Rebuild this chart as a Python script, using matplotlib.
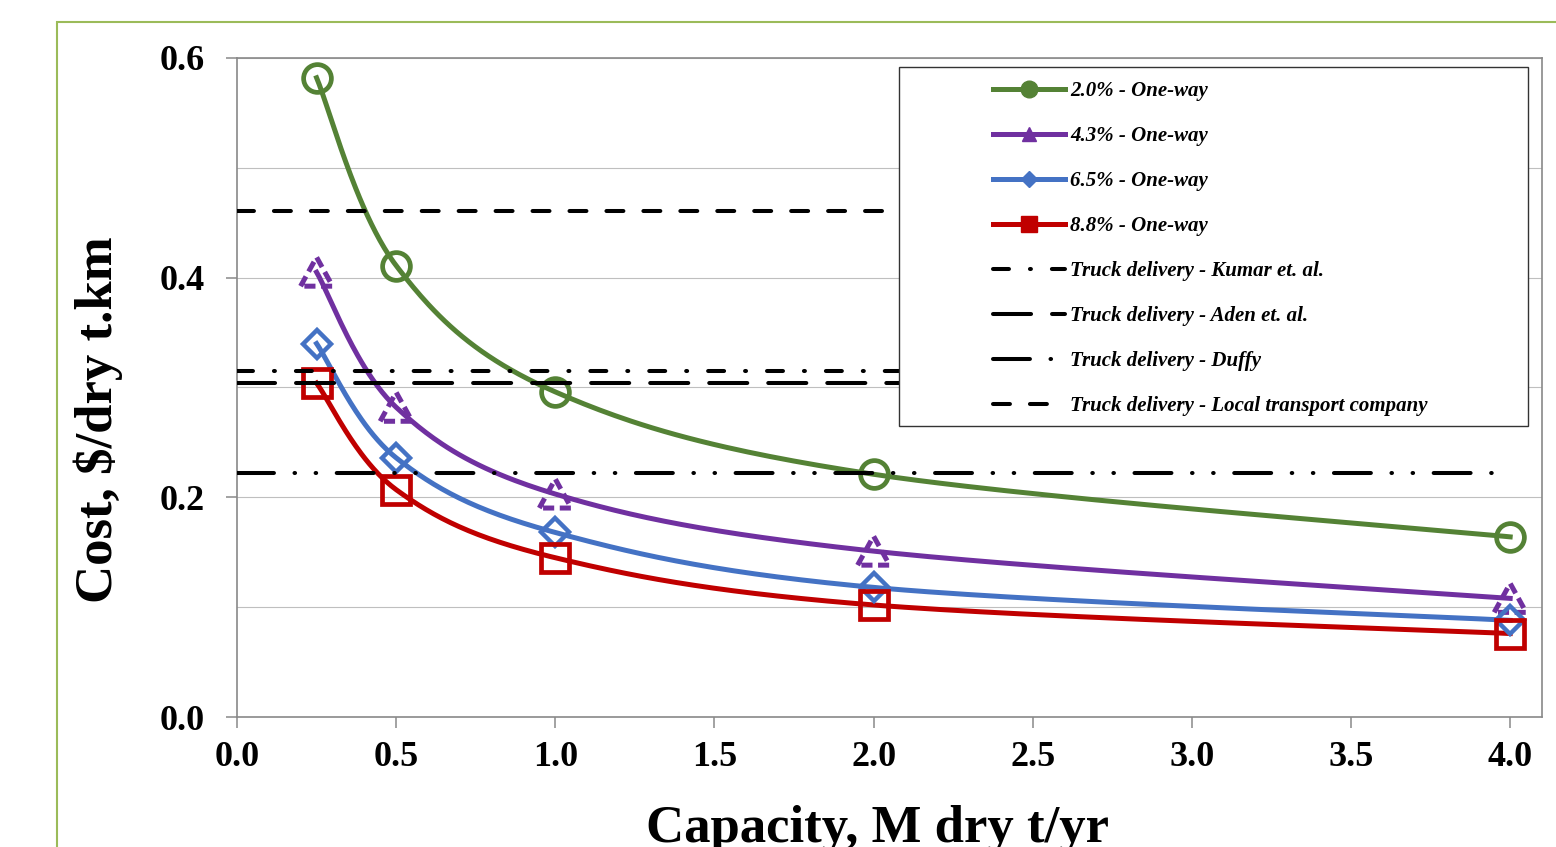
import numpy as np
import matplotlib
matplotlib.use("Agg")
import matplotlib.pyplot as plt
import matplotlib.transforms as mtransforms
from matplotlib.lines import Line2D
from matplotlib.patches import Rectangle
from matplotlib.ticker import MultipleLocator, FormatStrFormatter

plt.rcParams['font.family'] = ['Liberation Serif', 'DejaVu Serif']
plt.rcParams['lines.scale_dashes'] = False

# data
capacity = [0.25, 0.5, 1.0, 2.0, 4.0]
cost_20 = [0.582, 0.411, 0.296, 0.221, 0.164]
cost_43 = [0.405, 0.282, 0.203, 0.151, 0.108]
cost_65 = [0.340, 0.236, 0.168, 0.118, 0.088]
cost_88 = [0.304, 0.207, 0.145, 0.102, 0.076]

truck_x = [0.0, 4.0]
truck_kumar = 0.315
truck_aden = 0.304
truck_duffy = 0.222
truck_local = 0.461

green = "#548235"
purple = "#7030A0"
blue = "#4472C4"
red = "#C00000"
axis_gray = "#898989"


def smooth(xs, ys, n=50):
    # Excel style smoothed line: cubic Bezier through the points
    P = np.column_stack([xs, ys])
    ext = np.vstack([P[0], P, P[-1]])
    t = np.linspace(0, 1, n)[:, None]
    out = []
    for i in range(len(P) - 1):
        p0, p1, p2, p3 = ext[i], ext[i + 1], ext[i + 2], ext[i + 3]
        c1 = p1 + (p2 - p0) / 6
        c2 = p2 - (p3 - p1) / 6
        seg = (1 - t) ** 3 * p1 + 3 * (1 - t) ** 2 * t * c1 + 3 * (1 - t) * t ** 2 * c2 + t ** 3 * p2
        out.append(seg)
    out = np.vstack(out)
    return out[:, 0], out[:, 1]


fig = plt.figure(figsize=(15.56, 8.47), dpi=100)
ax = fig.add_axes([237 / 1556, 130 / 847, 1305 / 1556, 659 / 847])

lw = 3.6
sx, sy = smooth(capacity, cost_20)
ax.plot(sx, sy, color=green, lw=lw, zorder=3)
ax.plot(capacity, cost_20, ls='none', marker='o', ms=20, mfc='none', mec=green, mew=3.4, zorder=4)

sx, sy = smooth(capacity, cost_43)
ax.plot(sx, sy, color=purple, lw=lw, zorder=3)
# dashed-outline triangles
tri_x = np.array([-0.16, 0.0, 0.16, -0.16])
tri_y = np.array([-0.14, 0.15, -0.14, -0.14])
for x, y in zip(capacity, cost_43):
    tr = fig.dpi_scale_trans + mtransforms.ScaledTranslation(x, y, ax.transData)
    ax.add_line(Line2D(tri_x, tri_y, transform=tr, color=purple, lw=3.6,
                       dashes=(8, 4), zorder=4))

sx, sy = smooth(capacity, cost_65)
ax.plot(sx, sy, color=blue, lw=lw, zorder=3)
ax.plot(capacity, cost_65, ls='none', marker='D', ms=14, mfc='none', mec=blue, mew=3.2, zorder=4)

sx, sy = smooth(capacity, cost_88)
ax.plot(sx, sy, color=red, lw=lw, zorder=3)
ax.plot(capacity, cost_88, ls='none', marker='s', ms=19.5, mfc='none', mec=red, mew=3.4, zorder=4)

ref_lw = 2.9
kumar_dash = (0, (11.5, 15.1, 0.7, 15.1))
aden_dash = (0, (27.4, 15.1))
duffy_dash = (0, (26.6, 14.8, 0.4, 14.8, 0.4, 14.8))
local_dash = (0, (12.2, 14.4))
ax.plot(truck_x, [truck_kumar] * 2, color='black', lw=ref_lw, ls=kumar_dash, dash_capstyle='round', zorder=5)
ax.plot(truck_x, [truck_aden] * 2, color='black', lw=ref_lw, ls=aden_dash, dash_capstyle='round', zorder=5)
ax.plot(truck_x, [truck_duffy] * 2, color='black', lw=ref_lw, ls=duffy_dash, dash_capstyle='round', zorder=5)
ax.plot(truck_x, [truck_local] * 2, color='black', lw=ref_lw, ls=local_dash, dash_capstyle='round', zorder=5)

ax.set_xlim(0, 4.1)
ax.set_ylim(0, 0.6)
ax.xaxis.set_major_locator(MultipleLocator(0.5))
ax.yaxis.set_major_locator(MultipleLocator(0.2))
ax.yaxis.set_minor_locator(MultipleLocator(0.1))
ax.xaxis.set_major_formatter(FormatStrFormatter('%.1f'))
ax.yaxis.set_major_formatter(FormatStrFormatter('%.1f'))
ax.grid(axis='y', which='both', color='#BFBFBF', lw=0.8, zorder=0)
ax.set_axisbelow(True)
for s in ax.spines.values():
    s.set_color(axis_gray)
    s.set_linewidth(1.2)
ax.tick_params(axis='both', which='major', length=8, width=1.1, color=axis_gray,
               labelsize=26, direction='out')
ax.tick_params(axis='y', which='major', pad=15)
ax.tick_params(axis='x', which='major', pad=9)
ax.tick_params(axis='y', which='minor', length=0)
for lab in ax.get_xticklabels() + ax.get_yticklabels():
    lab.set_fontweight('bold')

fig.text(878 / 1556, 5 / 847, "Capacity, M dry t/yr", ha='center', va='baseline',
         fontsize=38, fontweight='bold')
fig.text(98 / 1556, (847 - 420) / 847, "Cost, $/dry t.km", ha='center', va='center',
         rotation=90, fontsize=38, fontweight='bold')

# outer chart border
fig.patches.append(Rectangle((57 / 1556, -0.1), 1.2, (847 - 22) / 847 + 0.1,
                             transform=fig.transFigure, fill=False,
                             edgecolor='#9BBB59', lw=1.5))
# legend box
fig.patches.append(Rectangle((899 / 1556, (847 - 426) / 847), 629 / 1556, 359 / 847,
                             transform=fig.transFigure, facecolor='white',
                             edgecolor='#333333', lw=1.0, zorder=2))

handles = [
    Line2D([], [], color=green, lw=lw, marker='o', ms=12),
    Line2D([], [], color=purple, lw=lw, marker='^', ms=10),
    Line2D([], [], color=blue, lw=lw, marker='D', ms=8),
    Line2D([], [], color=red, lw=lw, marker='s', ms=12),
    Line2D([], [], color='black', lw=ref_lw, ls=kumar_dash, dash_capstyle='round'),
    Line2D([], [], color='black', lw=ref_lw, ls=aden_dash, dash_capstyle='round'),
    Line2D([], [], color='black', lw=ref_lw, ls=duffy_dash, dash_capstyle='round'),
    Line2D([], [], color='black', lw=ref_lw, ls=local_dash, dash_capstyle='round'),
]
labels = [
    "2.0% - One-way",
    "4.3% - One-way",
    "6.5% - One-way",
    "8.8% - One-way",
    "Truck delivery - Kumar et. al.",
    "Truck delivery - Aden et. al.",
    "Truck delivery - Duffy",
    "Truck delivery - Local transport company",
]
leg = fig.legend(handles, labels, loc='center left',
                 bbox_to_anchor=(993 / 1556, (847 - 248.5) / 847),
                 frameon=False, borderpad=0, borderaxespad=0,
                 handlelength=3.46, handletextpad=0.25, labelspacing=1.2,
                 prop={'family': 'Liberation Serif', 'weight': 'bold', 'style': 'italic', 'size': 15})
leg.set_zorder(6)

fig.savefig("out.png", dpi=100)
